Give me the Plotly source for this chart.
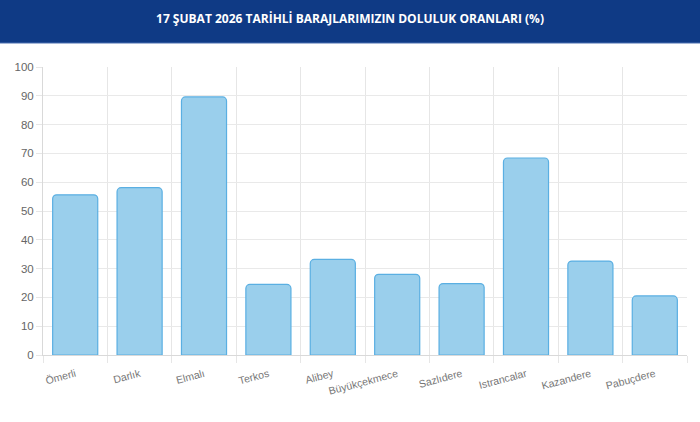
import plotly.graph_objects as go

categories = ["Ömerli", "Darlık", "Elmalı", "Terkos", "Alibey", "Büyükçekmece",
              "Sazlıdere", "Istrancalar", "Kazandere", "Pabuçdere"]
values = [55.6, 58.1, 89.6, 24.5, 33.2, 28.0, 24.8, 68.4, 32.6, 20.5]
y_ticks = [0, 10, 20, 30, 40, 50, 60, 70, 80, 90, 100]
title_text = "17 ŞUBAT 2026 TARİHLİ BARAJLARIMIZIN DOLULUK ORANLARI (%)"

xpos = list(range(len(categories)))

fig = go.Figure(go.Bar(
    x=xpos, y=values, width=0.70,
    marker=dict(color="#9acfec",
                line=dict(color="#5aafe2", width=1.2),
                cornerradius=4),
    hoverinfo="x+y",
))

W, H = 700, 422
ml, mr, mt, mb = 43, 13, 67, 67
ph = H - mt - mb

fig.update_layout(
    template="none",
    width=W, height=H,
    margin=dict(l=ml, r=mr, t=mt, b=mb),
    paper_bgcolor="white", plot_bgcolor="white",
    showlegend=False,
    font=dict(family="Liberation Sans, Arial, sans-serif", size=12, color="#666666"),
    title=dict(text=title_text, x=0.5, xref="container", xanchor="center",
               y=1 - 19 / H, yref="container", yanchor="middle",
               font=dict(family="Open Sans, sans-serif", size=12, color="white", weight="bold")),
    shapes=[dict(type="rect", xref="paper", yref="paper",
                 x0=-0.1, x1=1.1, y0=1 + (mt - 43) / ph, y1=1.3,
                 fillcolor="#0f3a85", line=dict(width=0), layer="below"),
            dict(type="line", xref="paper", yref="paper",
                 x0=-0.1, x1=1.1, y0=1 + (mt - 43) / ph, y1=1 + (mt - 43) / ph,
                 line=dict(color="#4a6fb0", width=1))],
)

fig.update_xaxes(
    range=[-0.5, len(categories) - 0.5],
    tickmode="array", tickvals=xpos, ticktext=categories,
    tickangle=-15, showgrid=False, ticks="", zeroline=False,
    showline=True, linecolor="#d9d9d9", linewidth=1,
    tickfont=dict(size=10.5, color="#777777"),
    ticklabelstandoff=8,
    minor=dict(tickmode="linear", tick0=0.5, dtick=1, showgrid=True,
               gridcolor="#e6e6e6", gridwidth=1, ticks="outside", ticklen=7,
               tickcolor="#e6e6e6"),
    fixedrange=True,
)
fig.update_yaxes(
    range=[0, 100], tickmode="array", tickvals=y_ticks,
    showgrid=True, gridcolor="#e9e9e9", gridwidth=1, zeroline=False,
    showline=True, linecolor="#d9d9d9", linewidth=1,
    ticks="outside", ticklen=6, tickcolor="#e6e6e6",
    tickfont=dict(size=11.5, color="#666666"),
    fixedrange=True,
)

fig.write_html("out.html", config={"displayModeBar": False},
               post_script="document.body.style.margin='0';")
